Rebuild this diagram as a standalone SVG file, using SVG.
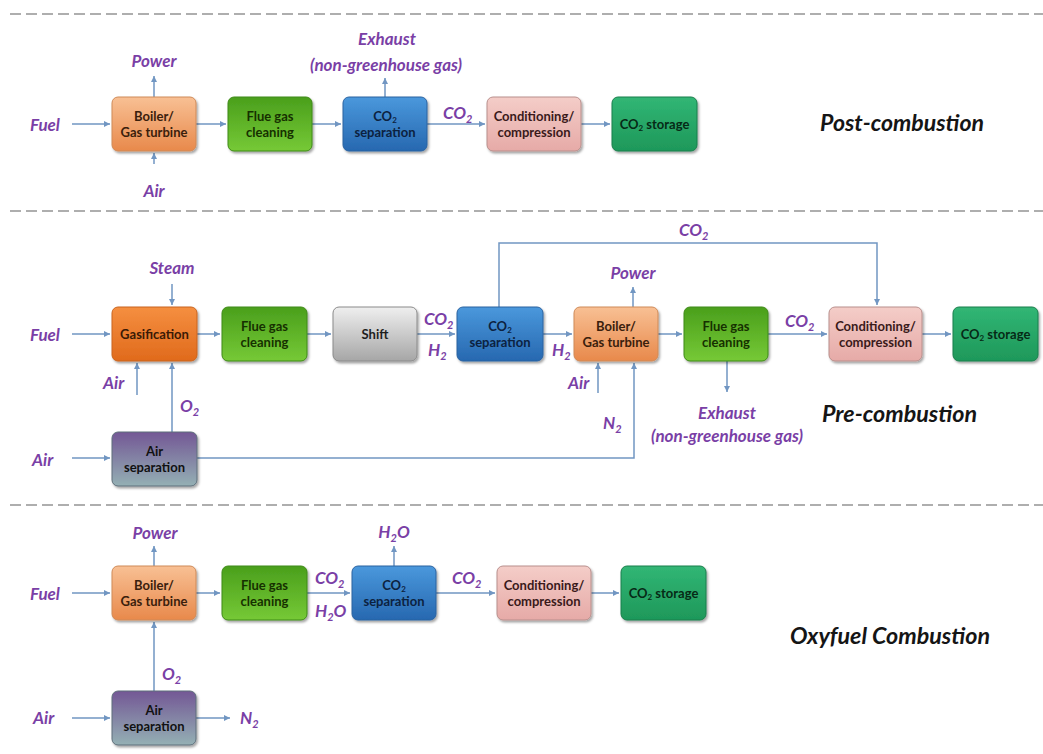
<svg xmlns="http://www.w3.org/2000/svg" width="1043" height="754" viewBox="0 0 1043 754">
<defs>
<style>
.bt{font-family:Lato,"Open Sans","Liberation Sans",sans-serif;font-weight:bold;font-size:13px;text-anchor:middle}
.lbl{font-family:Lato,"Open Sans","Liberation Sans",sans-serif;font-weight:bold;font-style:italic;font-size:17px;fill:#7a3fa6}
.ttl{font-family:Lato,"Open Sans","Liberation Sans",sans-serif;font-weight:bold;font-style:italic;font-size:22px;fill:#151515}
.conn{fill:none;stroke:#7196c2;stroke-width:1.5}
.arr{marker-end:url(#ah)}
.dash{stroke:#949494;stroke-width:1.7;stroke-dasharray:11 5;fill:none}
.box{stroke-width:1}
</style>
<marker id="ah" viewBox="0 0 10 10" refX="10" refY="5" markerWidth="6" markerHeight="6" markerUnits="userSpaceOnUse" orient="auto">
<path d="M0,0 L10,5 L0,10 z" fill="#7196c2"/>
</marker>
<filter id="sh" x="-10%" y="-10%" width="130%" height="135%">
<feDropShadow dx="1.5" dy="2" stdDeviation="1.3" flood-color="#000" flood-opacity="0.35"/>
</filter>
<linearGradient id="gBoiler" x1="0" y1="0" x2="0" y2="1"><stop offset="0" stop-color="#f8c094"/><stop offset="1" stop-color="#e8894b"/></linearGradient>
<linearGradient id="gGas" x1="0" y1="0" x2="0" y2="1"><stop offset="0" stop-color="#f58f40"/><stop offset="1" stop-color="#e06a1c"/></linearGradient>
<linearGradient id="gFlue" x1="0" y1="0" x2="0" y2="1"><stop offset="0" stop-color="#4a9f1c"/><stop offset="1" stop-color="#76c936"/></linearGradient>
<linearGradient id="gSep" x1="0" y1="0" x2="0" y2="1"><stop offset="0" stop-color="#4a98dc"/><stop offset="1" stop-color="#2768b0"/></linearGradient>
<linearGradient id="gCond" x1="0" y1="0" x2="0" y2="1"><stop offset="0" stop-color="#f4cdc8"/><stop offset="1" stop-color="#e6aaa7"/></linearGradient>
<linearGradient id="gStore" x1="0" y1="0" x2="0" y2="1"><stop offset="0" stop-color="#31b675"/><stop offset="1" stop-color="#1e985a"/></linearGradient>
<linearGradient id="gShift" x1="0" y1="0" x2="0" y2="1"><stop offset="0" stop-color="#efefef"/><stop offset="1" stop-color="#a6a6a6"/></linearGradient>
<linearGradient id="gAir" x1="0" y1="0" x2="0" y2="1"><stop offset="0" stop-color="#735795"/><stop offset="1" stop-color="#94b0b4"/></linearGradient>
</defs>
<rect width="1043" height="754" fill="#ffffff"/>

<g id="separators">
<line class="dash" x1="10" y1="14" x2="1043" y2="14"/>
<line class="dash" x1="10" y1="211" x2="1043" y2="211"/>
<line class="dash" x1="10" y1="505" x2="1043" y2="505"/>
</g>

<g id="connectors">
<path class="conn arr" d="M72,124 H110"/>
<path class="conn arr" d="M196,124 H226"/>
<path class="conn arr" d="M312,124 H341"/>
<path class="conn arr" d="M427,124 H485"/>
<path class="conn arr" d="M581,124 H610"/>
<path class="conn arr" d="M154,97 V76"/>
<path class="conn arr" d="M154,164 V153"/>
<path class="conn arr" d="M385,97 V78"/>
<path class="conn arr" d="M72,334 H110"/>
<path class="conn arr" d="M172,284 V305"/>
<path class="conn arr" d="M137,395 V363"/>
<path class="conn arr" d="M172,432 V363"/>
<path class="conn arr" d="M197,334 H220"/>
<path class="conn arr" d="M307,334 H331"/>
<path class="conn arr" d="M417,334 H455"/>
<path class="conn arr" d="M499,307 V243 H877 V305"/>
<path class="conn arr" d="M543,334 H572"/>
<path class="conn arr" d="M633,307 V287"/>
<path class="conn arr" d="M598,393 V363"/>
<path class="conn arr" d="M658,334 H682"/>
<path class="conn arr" d="M727,361 V392"/>
<path class="conn arr" d="M768,334 H827"/>
<path class="conn arr" d="M922,334 H951"/>
<path class="conn arr" d="M72,458 H110"/>
<path class="conn arr" d="M197,458 H634 V363"/>
<path class="conn arr" d="M72,593 H110"/>
<path class="conn arr" d="M154,566 V546"/>
<path class="conn arr" d="M196,593 H220"/>
<path class="conn arr" d="M307,593 H350"/>
<path class="conn arr" d="M394,566 V546"/>
<path class="conn arr" d="M436,593 H495"/>
<path class="conn arr" d="M591,593 H619"/>
<path class="conn arr" d="M154,691 V622"/>
<path class="conn arr" d="M72,718 H110"/>
<path class="conn arr" d="M196,718 H230"/>
</g>

<g id="boiler1"><rect class="box" x="112" y="97" width="84" height="54" rx="6" fill="url(#gBoiler)" stroke="#cf8a58" filter="url(#sh)"/>
<text class="bt" fill="#3a200c"><tspan x="154" y="121">Boiler/</tspan><tspan x="154" y="137">Gas turbine</tspan></text></g>
<g id="flue1"><rect class="box" x="228" y="97" width="84" height="54" rx="6" fill="url(#gFlue)" stroke="#3f8a18" filter="url(#sh)"/>
<text class="bt" fill="#163000"><tspan x="270" y="121">Flue gas</tspan><tspan x="270" y="137">cleaning</tspan></text></g>
<g id="sep1"><rect class="box" x="343" y="97" width="84" height="54" rx="6" fill="url(#gSep)" stroke="#2a62a0" filter="url(#sh)"/>
<text class="bt" fill="#0c2240"><tspan x="385" y="121">CO<tspan font-size="8" dy="2">2</tspan></tspan><tspan x="385" y="137">separation</tspan></text></g>
<g id="cond1"><rect class="box" x="487" y="97" width="94" height="54" rx="6" fill="url(#gCond)" stroke="#b88f8c" filter="url(#sh)"/>
<text class="bt" fill="#3a1a1a"><tspan x="534" y="121">Conditioning/</tspan><tspan x="534" y="137">compression</tspan></text></g>
<g id="store1"><rect class="box" x="612" y="97" width="85" height="54" rx="6" fill="url(#gStore)" stroke="#1b7e4c" filter="url(#sh)"/>
<text class="bt" fill="#062a16" x="654.5" y="129">CO<tspan font-size="8" dy="2">2</tspan><tspan dy="-2"> storage</tspan></text></g>

<g id="labels-post">
<text class="lbl" x="30" y="131">Fuel</text>
<text class="lbl" x="154" y="67" text-anchor="middle">Power</text>
<text class="lbl" x="154" y="197" text-anchor="middle">Air</text>
<text class="lbl" x="387" y="45" text-anchor="middle">Exhaust</text>
<text class="lbl" x="386" y="71" text-anchor="middle">(non-greenhouse gas)</text>
<text class="lbl" x="443" y="119">CO<tspan font-size="11" dy="4">2</tspan></text>
<text class="ttl" x="902" y="131" text-anchor="middle" textLength="164" lengthAdjust="spacingAndGlyphs">Post-combustion</text>
</g>

<g id="gasification"><rect class="box" x="112" y="307" width="85" height="54" rx="6" fill="url(#gGas)" stroke="#c9651f" filter="url(#sh)"/>
<text class="bt" fill="#3a1a06" x="154.5" y="339">Gasification</text></g>
<g id="flue2"><rect class="box" x="222" y="307" width="85" height="54" rx="6" fill="url(#gFlue)" stroke="#3f8a18" filter="url(#sh)"/>
<text class="bt" fill="#163000"><tspan x="264.5" y="331">Flue gas</tspan><tspan x="264.5" y="347">cleaning</tspan></text></g>
<g id="shift"><rect class="box" x="333" y="307" width="84" height="54" rx="6" fill="url(#gShift)" stroke="#8a8a8a" filter="url(#sh)"/>
<text class="bt" fill="#1e1e1e" x="375" y="339">Shift</text></g>
<g id="sep2"><rect class="box" x="457" y="307" width="86" height="54" rx="6" fill="url(#gSep)" stroke="#2a62a0" filter="url(#sh)"/>
<text class="bt" fill="#0c2240"><tspan x="500" y="331">CO<tspan font-size="8" dy="2">2</tspan></tspan><tspan x="500" y="347">separation</tspan></text></g>
<g id="boiler2"><rect class="box" x="574" y="307" width="84" height="54" rx="6" fill="url(#gBoiler)" stroke="#cf8a58" filter="url(#sh)"/>
<text class="bt" fill="#3a200c"><tspan x="616" y="331">Boiler/</tspan><tspan x="616" y="347">Gas turbine</tspan></text></g>
<g id="flue3"><rect class="box" x="684" y="307" width="84" height="54" rx="6" fill="url(#gFlue)" stroke="#3f8a18" filter="url(#sh)"/>
<text class="bt" fill="#163000"><tspan x="726" y="331">Flue gas</tspan><tspan x="726" y="347">cleaning</tspan></text></g>
<g id="cond2"><rect class="box" x="829" y="307" width="93" height="54" rx="6" fill="url(#gCond)" stroke="#b88f8c" filter="url(#sh)"/>
<text class="bt" fill="#3a1a1a"><tspan x="875.5" y="331">Conditioning/</tspan><tspan x="875.5" y="347">compression</tspan></text></g>
<g id="store2"><rect class="box" x="953" y="307" width="85" height="54" rx="6" fill="url(#gStore)" stroke="#1b7e4c" filter="url(#sh)"/>
<text class="bt" fill="#062a16" x="995.5" y="339">CO<tspan font-size="8" dy="2">2</tspan><tspan dy="-2"> storage</tspan></text></g>
<g id="airsep1"><rect class="box" x="112" y="432" width="85" height="54" rx="6" fill="url(#gAir)" stroke="#5e6f7a" filter="url(#sh)"/>
<text class="bt" fill="#111111"><tspan x="154.5" y="456">Air</tspan><tspan x="154.5" y="472">separation</tspan></text></g>

<g id="labels-pre">
<text class="lbl" x="30" y="341">Fuel</text>
<text class="lbl" x="172" y="274" text-anchor="middle">Steam</text>
<text class="lbl" x="103" y="389">Air</text>
<text class="lbl" x="180" y="412">O<tspan font-size="11" dy="4">2</tspan></text>
<text class="lbl" x="32" y="466">Air</text>
<text class="lbl" x="424" y="325">CO<tspan font-size="11" dy="4">2</tspan></text>
<text class="lbl" x="428" y="356">H<tspan font-size="11" dy="4">2</tspan></text>
<text class="lbl" x="679" y="236">CO<tspan font-size="11" dy="4">2</tspan></text>
<text class="lbl" x="552" y="356">H<tspan font-size="11" dy="4">2</tspan></text>
<text class="lbl" x="633" y="279" text-anchor="middle">Power</text>
<text class="lbl" x="568" y="389">Air</text>
<text class="lbl" x="603" y="429">N<tspan font-size="11" dy="4">2</tspan></text>
<text class="lbl" x="785" y="327">CO<tspan font-size="11" dy="4">2</tspan></text>
<text class="lbl" x="727" y="419" text-anchor="middle">Exhaust</text>
<text class="lbl" x="727" y="442" text-anchor="middle">(non-greenhouse gas)</text>
<text class="ttl" x="899.5" y="422" text-anchor="middle" textLength="155" lengthAdjust="spacingAndGlyphs">Pre-combustion</text>
</g>

<g id="boiler3"><rect class="box" x="112" y="566" width="84" height="54" rx="6" fill="url(#gBoiler)" stroke="#cf8a58" filter="url(#sh)"/>
<text class="bt" fill="#3a200c"><tspan x="154" y="590">Boiler/</tspan><tspan x="154" y="606">Gas turbine</tspan></text></g>
<g id="flue4"><rect class="box" x="222" y="566" width="85" height="54" rx="6" fill="url(#gFlue)" stroke="#3f8a18" filter="url(#sh)"/>
<text class="bt" fill="#163000"><tspan x="264.5" y="590">Flue gas</tspan><tspan x="264.5" y="606">cleaning</tspan></text></g>
<g id="sep3"><rect class="box" x="352" y="566" width="84" height="54" rx="6" fill="url(#gSep)" stroke="#2a62a0" filter="url(#sh)"/>
<text class="bt" fill="#0c2240"><tspan x="394" y="590">CO<tspan font-size="8" dy="2">2</tspan></tspan><tspan x="394" y="606">separation</tspan></text></g>
<g id="cond3"><rect class="box" x="497" y="566" width="94" height="54" rx="6" fill="url(#gCond)" stroke="#b88f8c" filter="url(#sh)"/>
<text class="bt" fill="#3a1a1a"><tspan x="544" y="590">Conditioning/</tspan><tspan x="544" y="606">compression</tspan></text></g>
<g id="store3"><rect class="box" x="621" y="566" width="85" height="54" rx="6" fill="url(#gStore)" stroke="#1b7e4c" filter="url(#sh)"/>
<text class="bt" fill="#062a16" x="663.5" y="598">CO<tspan font-size="8" dy="2">2</tspan><tspan dy="-2"> storage</tspan></text></g>
<g id="airsep2"><rect class="box" x="112" y="691" width="84" height="54" rx="6" fill="url(#gAir)" stroke="#5e6f7a" filter="url(#sh)"/>
<text class="bt" fill="#111111"><tspan x="154" y="715">Air</tspan><tspan x="154" y="731">separation</tspan></text></g>

<g id="labels-oxy">
<text class="lbl" x="30" y="600">Fuel</text>
<text class="lbl" x="155" y="539" text-anchor="middle">Power</text>
<text class="lbl" x="315" y="584">CO<tspan font-size="11" dy="4">2</tspan></text>
<text class="lbl" x="315" y="617">H<tspan font-size="11" dy="4">2</tspan><tspan dy="-4">O</tspan></text>
<text class="lbl" x="394" y="538" text-anchor="middle">H<tspan font-size="11" dy="4">2</tspan><tspan dy="-4">O</tspan></text>
<text class="lbl" x="452" y="584">CO<tspan font-size="11" dy="4">2</tspan></text>
<text class="lbl" x="162" y="680">O<tspan font-size="11" dy="4">2</tspan></text>
<text class="lbl" x="33" y="724">Air</text>
<text class="lbl" x="240" y="724">N<tspan font-size="11" dy="4">2</tspan></text>
<text class="ttl" x="890" y="644" text-anchor="middle" textLength="200" lengthAdjust="spacingAndGlyphs">Oxyfuel Combustion</text>
</g>
</svg>
